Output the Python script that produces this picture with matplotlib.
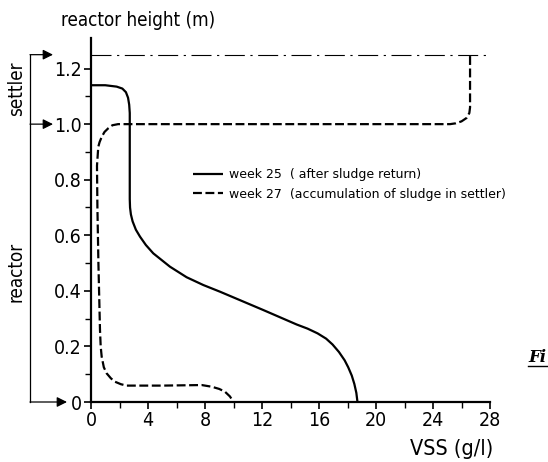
import matplotlib
matplotlib.use("Agg")
import matplotlib.pyplot as plt
from matplotlib.lines import Line2D

# VSS concentration profiles over reactor height
week25_vss = [0.0, 1.0, 1.8, 2.2, 2.45, 2.6, 2.68, 2.72, 2.72, 2.74, 2.8, 2.92, 3.15,
              3.44, 3.85, 4.37, 5.54, 6.71, 7.88, 9.05, 10.34, 12.09, 14.43, 15.2,
              15.9, 16.5, 16.95, 17.4, 17.8, 18.05, 18.3, 18.48, 18.62, 18.7]
week25_h = [1.14, 1.14, 1.135, 1.128, 1.115, 1.095, 1.07, 1.04, 0.73, 0.70, 0.675,
            0.65, 0.62, 0.595, 0.565, 0.535, 0.487, 0.449, 0.421, 0.397, 0.369,
            0.331, 0.279, 0.264, 0.247, 0.228, 0.207, 0.18, 0.15, 0.125, 0.095,
            0.065, 0.033, 0.0]

week27_vss = [26.6, 26.6, 26.55, 26.35, 26.0, 25.6, 25.2, 1.9, 1.5, 1.21, 0.95, 0.75,
              0.6, 0.51, 0.42, 0.45, 0.52, 0.58, 0.63, 0.68, 0.75, 0.9, 1.1, 1.4,
              1.68, 2.1, 2.5, 5.0, 7.77, 8.47, 9.0, 9.4, 9.75, 10.0]
week27_h = [1.245, 1.06, 1.04, 1.022, 1.01, 1.003, 1.0, 1.0, 0.996, 0.985, 0.972,
            0.954, 0.935, 0.918, 0.85, 0.7, 0.5, 0.37, 0.26, 0.2, 0.163, 0.125,
            0.103, 0.085, 0.073, 0.064, 0.059, 0.059, 0.061, 0.055, 0.047, 0.037,
            0.02, 0.0]

settler_top = 1.25
settler_bottom = 1.0

x_ticks = [0, 4, 8, 12, 16, 20, 24, 28]
y_ticks = [0, 0.2, 0.4, 0.6, 0.8, 1.0, 1.2]
y_tick_labels = ["0", "0.2", "0.4", "0.6", "0.8", "1.0", "1.2"]

label_week25 = "week 25  ( after sludge return)"
label_week27 = "week 27  (accumulation of sludge in settler)"

fig = plt.figure(figsize=(5.48, 4.62), dpi=100)
W, H = 548, 462
ax_left, ax_right, ax_bottom, ax_top = 91, 490, 402, 38
ax = fig.add_axes([ax_left / W, 1 - ax_bottom / H,
                   (ax_right - ax_left) / W, (ax_bottom - ax_top) / H])

ax.set_xlim(0, 28)
ax.set_ylim(0, 1.31)

for s in ("top", "right"):
    ax.spines[s].set_visible(False)
for s in ("left", "bottom"):
    ax.spines[s].set_linewidth(1.6)

ax.set_xticks(x_ticks)
ax.set_xticks([2, 6, 10, 14, 18, 22, 26], minor=True)
ax.set_yticks(y_ticks)
ax.set_yticklabels(y_tick_labels)
ax.set_yticks([0.1, 0.3, 0.5, 0.7, 0.9, 1.1], minor=True)
ax.tick_params(which="major", length=5, width=1.2, pad=1.5, labelsize=14)
ax.tick_params(which="minor", length=4, width=1.0)
for lab in ax.get_xticklabels() + ax.get_yticklabels():
    lab.set_family("DejaVu Sans")
    lab.set_stretch("condensed")

# settler overflow level
ax.plot([0, 27.85], [settler_top, settler_top], color="black", lw=0.8,
        dashes=(18, 5, 2, 5))

ax.plot(week25_vss, week25_h, color="black", lw=1.6, solid_capstyle="butt",
        solid_joinstyle="round", label=label_week25)
ax.plot(week27_vss, week27_h, color="black", lw=1.6, dashes=(4, 1.6),
        label=label_week27)

ax.legend(loc="upper left", bbox_to_anchor=(0.255, 0.643), frameon=False,
          fontsize=9, handlelength=2.4, handletextpad=0.5,
          labelspacing=0.55, borderpad=0, borderaxespad=0)

# reactor / settler bracket on the left
def px_to_axfrac(p):
    return (p - ax_left) / (ax_right - ax_left)

bx = px_to_axfrac(30)
ax.plot([bx, bx], [0, settler_top], transform=ax.get_yaxis_transform(),
        color="black", lw=0.9, clip_on=False)
arrow = dict(arrowstyle="-|>", color="black", lw=0.9, mutation_scale=15,
             shrinkA=0, shrinkB=0)
for yv, tip in ((settler_top, 53), (settler_bottom, 53), (0.0, 67)):
    ax.annotate("", xy=(px_to_axfrac(tip), yv), xytext=(bx, yv),
                xycoords=("axes fraction", "data"),
                textcoords=("axes fraction", "data"),
                arrowprops=arrow, annotation_clip=False)

txt = dict(fontsize=13.5, family="DejaVu Sans", stretch="condensed")
fig.text(138 / W, 1 - 20 / H, "reactor height (m)", ha="center", va="center", **txt)
fig.text(17 / W, 1 - 89 / H, "settler", ha="center", va="center", rotation=90, **txt)
fig.text(16 / W, 1 - 272 / H, "reactor", ha="center", va="center", rotation=90, **txt)
fig.text(452 / W, 1 - 449 / H, "VSS (g/l)", ha="center", va="center",
         fontsize=15.5, family="DejaVu Sans", stretch="condensed")

fig.text(547 / W, 1 - 362 / H, "Fi", ha="right", va="baseline", fontsize=12,
         family="DejaVu Serif", style="italic", weight="bold")
fig.add_artist(Line2D([528 / W, 1.0], [1 - 366 / H, 1 - 366 / H],
                      transform=fig.transFigure, color="black", lw=1.0))

fig.savefig("out.png", dpi=100)
